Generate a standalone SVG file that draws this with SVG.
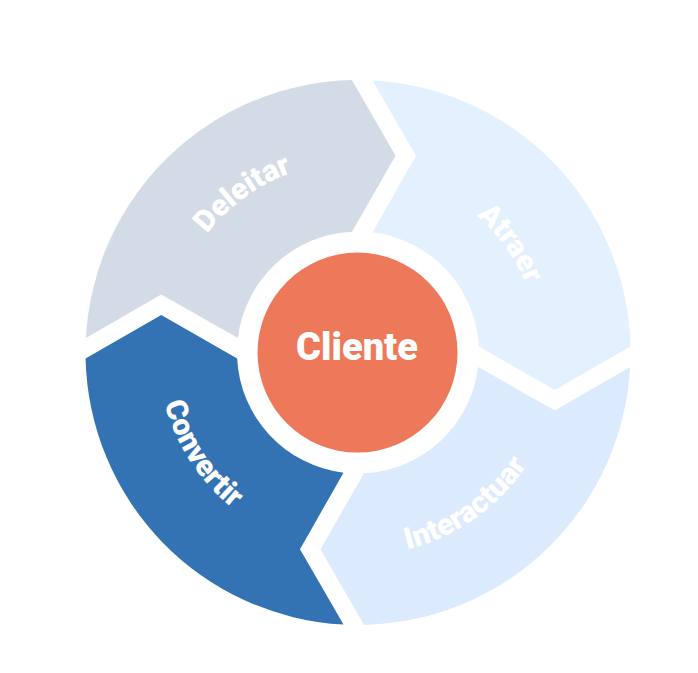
<svg xmlns="http://www.w3.org/2000/svg" xmlns:xlink="http://www.w3.org/1999/xlink" width="698" height="673" viewBox="0 0 698 673">
<style>
.lbl{font-family:Roboto,"Liberation Sans",sans-serif;font-weight:900;fill:#FFFFFF;font-size:30px}
.ctr{font-family:Roboto,"Liberation Sans",sans-serif;font-weight:900;fill:#FFFFFF;font-size:38px}
</style>
<defs>
<path id="pDel" d="M185.43,436.67 A192,192 0 0 1 491.38,214.39"/>
<path id="pAtr" d="M279.79,189.27 A181,181 0 0 1 487.32,479.15"/>
<path id="pInt" d="M214.97,496.55 A203,203 0 0 0 541.67,266.06"/>
<path id="pCon" d="M221.6,206.22 A200,200 0 0 0 436.14,536.6"/>
</defs>
<rect width="698" height="673" fill="#FFFFFF"/>
<g id="connectors"></g>
<g id="atraer">
<path d="M372.5,80.39 A272.5,272.5 0 0 1 630.43,346.5 L554.75,390 L478.85,346.5 A121,121 0 0 0 372.5,232.37 L416,155.75 Z" fill="#E3F0FD"/>
<text class="lbl"><textPath xlink:href="#pAtr" startOffset="50%" text-anchor="middle">Atraer</textPath></text>
</g>
<g id="interactuar">
<path d="M630.11,367 A272.5,272.5 0 0 1 364,624.93 L320.5,549.25 L364,473.35 A121,121 0 0 0 478.13,367 L554.75,410.5 Z" fill="#DBEAFC"/>
<text class="lbl"><textPath xlink:href="#pInt" startOffset="50%" text-anchor="middle">Interactuar</textPath></text>
</g>
<g id="convertir">
<path d="M343.5,624.61 A272.5,272.5 0 0 1 85.57,358.5 L161.25,315 L237.15,358.5 A121,121 0 0 0 343.5,472.63 L300,549.25 Z" fill="#3373B4"/>
<text class="lbl"><textPath xlink:href="#pCon" startOffset="50%" text-anchor="middle">Convertir</textPath></text>
</g>
<g id="deleitar">
<path d="M85.89,338 A272.5,272.5 0 0 1 352,80.07 L395.5,155.75 L352,231.65 A121,121 0 0 0 237.87,338 L161.25,294.5 Z" fill="#D3DCE6"/>
<text class="lbl"><textPath xlink:href="#pDel" startOffset="50%" text-anchor="middle">Deleitar</textPath></text>
</g>
<g id="cliente">
<circle cx="357.5" cy="352.6" r="100" fill="#EE785A"/>
<text class="ctr" x="357" y="359.5" text-anchor="middle">Cliente</text>
</g>
</svg>
